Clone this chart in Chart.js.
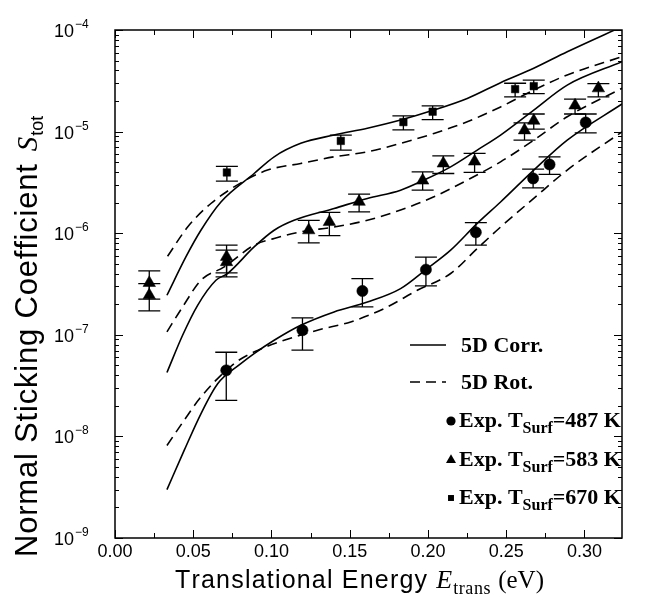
<!DOCTYPE html>
<html>
<head>
<meta charset="utf-8">
<script src="https://cdn.jsdelivr.net/npm/chart.js@4.4.0/dist/chart.umd.min.js"></script>
<style>
  html, body { margin: 0; padding: 0; background: #fff; }
  #wrap { width: 651px; height: 602px; }
</style>
</head>
<body>
<div id="wrap"><canvas id="c" width="651" height="602"></canvas></div>
<script>
// ---- Calculated sticking coefficients (5D corrugated / 5D rotational models) ----
const corr670E = [0.0332, 0.0453, 0.0549, 0.0677, 0.0889, 0.1017, 0.1187, 0.140, 0.1613, 0.1825, 0.2038, 0.2251, 0.2464, 0.2676, 0.289, 0.324];
const corr670S = [2.45e-7, 5.85e-7, 1.07e-6, 2.03e-6, 3.87e-6, 5.65e-6, 7.66e-6, 9.25e-6, 1.08e-5, 1.30e-5, 1.63e-5, 2.12e-5, 3.03e-5, 4.20e-5, 6.11e-5, 1.08e-4];
const rot670E  = [0.0336, 0.0464, 0.0613, 0.0815, 0.0975, 0.1187, 0.140, 0.1613, 0.1825, 0.2038, 0.2251, 0.2464, 0.2676, 0.289, 0.324];
const rot670S  = [5.93e-7, 1.15e-6, 1.96e-6, 3.20e-6, 4.18e-6, 4.86e-6, 5.65e-6, 6.32e-6, 7.66e-6, 9.59e-6, 1.25e-5, 1.75e-5, 2.56e-5, 3.61e-5, 5.46e-5];

const corr583E = [0.0332, 0.0432, 0.0528, 0.0645, 0.0719, 0.0889, 0.1017, 0.1144, 0.140, 0.1613, 0.1825, 0.1974, 0.2145, 0.2315, 0.2464, 0.2676, 0.289, 0.324];
const corr583S = [4.25e-8, 9.89e-8, 1.95e-7, 3.44e-7, 4.01e-7, 7.33e-7, 1.07e-6, 1.34e-6, 1.75e-6, 2.20e-6, 2.65e-6, 3.33e-6, 4.50e-6, 6.58e-6, 9.25e-6, 1.63e-5, 2.87e-5, 4.88e-5];
const rot583E  = [0.0332, 0.0432, 0.0549, 0.0698, 0.0889, 0.1017, 0.1187, 0.140, 0.1613, 0.1825, 0.2038, 0.2251, 0.2464, 0.2676, 0.289, 0.324];
const rot583S  = [1.07e-7, 1.88e-7, 3.44e-7, 4.66e-7, 7.62e-7, 8.87e-7, 1.03e-6, 1.15e-6, 1.34e-6, 1.69e-6, 2.28e-6, 3.33e-6, 5.04e-6, 8.24e-6, 1.40e-5, 2.67e-5];

const corr487E = [0.0332, 0.0442, 0.0549, 0.0656, 0.0804, 0.0889, 0.1017, 0.1187, 0.140, 0.1613, 0.1825, 0.1987, 0.2145, 0.2315, 0.2464, 0.2676, 0.289, 0.324];
const corr487S = [2.99e-9, 7.28e-9, 1.67e-8, 3.30e-8, 5.20e-8, 6.53e-8, 8.83e-8, 1.24e-7, 1.68e-7, 2.10e-7, 2.85e-7, 4.39e-7, 6.81e-7, 1.25e-6, 2.03e-6, 4.18e-6, 8.24e-6, 1.87e-5];
const rot487E  = [0.0332, 0.0442, 0.0549, 0.0761, 0.0911, 0.1081, 0.1294, 0.1506, 0.1719, 0.1932, 0.2145, 0.2315, 0.2464, 0.2676, 0.289, 0.324];
const rot487S  = [8.15e-9, 1.44e-8, 2.44e-8, 5.20e-8, 7.03e-8, 8.83e-8, 1.11e-7, 1.34e-7, 1.81e-7, 2.74e-7, 4.01e-7, 7.06e-7, 1.15e-6, 2.20e-6, 4.18e-6, 9.95e-6];

// ---- Measured sticking coefficients with error limits ----
const exp487E  = [0.0711, 0.1198, 0.1581, 0.1987, 0.2306, 0.2672, 0.2777, 0.3008];
const exp487S  = [4.47e-8, 1.11e-7, 2.70e-7, 4.38e-7, 1.02e-6, 3.46e-6, 4.75e-6, 1.23e-5];
const exp487Hi = [6.73e-8, 1.47e-7, 3.58e-7, 5.81e-7, 1.27e-6, 4.28e-6, 5.65e-6, 1.49e-5];
const exp487Lo = [2.26e-8, 7.08e-8, 1.88e-7, 3.03e-7, 7.62e-7, 2.79e-6, 3.79e-6, 9.73e-6];

const exp583E  = [0.0219, 0.0219, 0.0713, 0.0713, 0.1238, 0.137, 0.156, 0.1966, 0.2098, 0.2298, 0.2617, 0.2676, 0.294, 0.3089];
const exp583S  = [3.24e-7, 2.45e-7, 5.85e-7, 5.20e-7, 1.07e-6, 1.29e-6, 2.04e-6, 3.30e-6, 4.86e-6, 5.08e-6, 1.03e-5, 1.28e-5, 1.81e-5, 2.67e-5];
const exp583Hi = [4.26e-7, 3.19e-7, 7.62e-7, 6.81e-7, 1.34e-6, 1.60e-6, 2.42e-6, 4.02e-6, 5.78e-6, 6.10e-6, 1.22e-5, 1.49e-5, 2.09e-5, 2.96e-5];
const exp583Lo = [2.24e-7, 1.72e-7, 4.06e-7, 3.71e-7, 8.02e-7, 9.48e-7, 1.62e-6, 2.65e-6, 3.87e-6, 3.96e-6, 8.24e-6, 1.06e-5, 1.49e-5, 2.20e-5];

const exp670E  = [0.0715, 0.1443, 0.1843, 0.203, 0.2557, 0.2676];
const exp670S  = [3.96e-6, 8.10e-6, 1.24e-5, 1.57e-5, 2.62e-5, 2.80e-5];
const exp670Hi = [4.54e-6, 9.25e-6, 1.43e-5, 1.79e-5, 2.99e-5, 3.21e-5];
const exp670Lo = [3.25e-6, 6.58e-6, 1.04e-5, 1.31e-5, 2.20e-5, 2.36e-5];

// ---- Axis ticks and labels ----
const xTickValues = [0.00, 0.05, 0.10, 0.15, 0.20, 0.25, 0.30];
const xTickLabels = ['0.00', '0.05', '0.10', '0.15', '0.20', '0.25', '0.30'];
const yDecades    = [-9, -8, -7, -6, -5, -4];

const legendRows = [
  { kind: 'solid',  text: '5D Corr.' },
  { kind: 'dashed', text: '5D Rot.' },
  { kind: 'circle',   temp: '487' },
  { kind: 'triangle', temp: '583' },
  { kind: 'rect',     temp: '670' }
];

const SANS = '"Liberation Sans", Arial, Helvetica, sans-serif';
const SERIF = '"Liberation Serif", "Times New Roman", Times, serif';
const DASH = [10, 6];

function pts(xs, ys) { return xs.map((x, i) => ({ x: x, y: ys[i] })); }

function curve(xs, ys, dashed) {
  return {
    type: 'line',
    data: pts(xs, ys),
    showLine: true,
    borderColor: '#000',
    borderWidth: 1.6,
    borderDash: dashed ? DASH : [],
    pointRadius: 0,
    cubicInterpolationMode: 'monotone',
    fill: false
  };
}

function markers(xs, ys, style, r) {
  return {
    type: 'scatter',
    data: pts(xs, ys),
    pointStyle: style,
    pointRadius: r,
    pointBackgroundColor: '#000',
    pointBorderColor: '#000',
    pointBorderWidth: 0.5,
    showLine: false
  };
}

const errorSets = [
  { e: exp487E, hi: exp487Hi, lo: exp487Lo },
  { e: exp583E, hi: exp583Hi, lo: exp583Lo },
  { e: exp670E, hi: exp670Hi, lo: exp670Lo }
];

// draws text with optional letter spacing, returns advance width
function spaced(ctx, text, x, y, spacing) {
  let cx = x;
  for (const ch of text) {
    ctx.fillText(ch, cx, y);
    cx += ctx.measureText(ch).width + spacing;
  }
  return cx - x;
}

const axesPlugin = {
  id: 'axesPlugin',
  afterDatasetsDraw(chart) {
    const ctx = chart.ctx, xs = chart.scales.x, ys = chart.scales.y;
    ctx.save();
    ctx.strokeStyle = '#000';
    ctx.lineWidth = 1.3;
    const cap = 11;
    errorSets.forEach(set => {
      set.e.forEach((e, i) => {
        const px = xs.getPixelForValue(e);
        const yh = ys.getPixelForValue(set.hi[i]);
        const yl = ys.getPixelForValue(set.lo[i]);
        ctx.beginPath();
        ctx.moveTo(px, yh); ctx.lineTo(px, yl);
        ctx.moveTo(px - cap, yh); ctx.lineTo(px + cap, yh);
        ctx.moveTo(px - cap, yl); ctx.lineTo(px + cap, yl);
        ctx.stroke();
      });
    });
    ctx.restore();
  },
  afterDraw(chart) {
    const ctx = chart.ctx, xs = chart.scales.x, ys = chart.scales.y;
    const a = chart.chartArea;
    ctx.save();
    ctx.strokeStyle = '#000';
    ctx.fillStyle = '#000';
    ctx.lineWidth = 1.5;
    ctx.strokeRect(a.left, a.top, a.right - a.left, a.bottom - a.top);

    // x ticks (inward, bottom and top)
    ctx.lineWidth = 1;
    ctx.beginPath();
    for (let k = 0; k <= 13; k++) {
      const v = k * 0.025;
      if (v > xs.max) break;
      const px = Math.round(xs.getPixelForValue(v)) + 0.5;
      const len = (k % 2 === 0) ? 8 : 5;
      ctx.moveTo(px, a.bottom); ctx.lineTo(px, a.bottom - len);
      ctx.moveTo(px, a.top); ctx.lineTo(px, a.top + len);
    }
    // y ticks (inward, left and right)
    yDecades.forEach(d => {
      for (let m = 1; m <= 9; m++) {
        const v = m * Math.pow(10, d);
        if (v > ys.max * 1.0001) continue;
        const py = Math.round(ys.getPixelForValue(v)) + 0.5;
        const len = (m === 1) ? 8 : 4;
        ctx.moveTo(a.left, py); ctx.lineTo(a.left + len, py);
        ctx.moveTo(a.right, py); ctx.lineTo(a.right - len, py);
      }
    });
    ctx.stroke();

    // x tick labels
    ctx.font = '18px ' + SANS;
    ctx.textAlign = 'center';
    ctx.textBaseline = 'alphabetic';
    xTickValues.forEach((v, i) => {
      ctx.fillText(xTickLabels[i], xs.getPixelForValue(v), 557);
    });

    // y tick labels: 10^n
    yDecades.forEach(d => {
      const py = ys.getPixelForValue(Math.pow(10, d));
      ctx.font = '18px ' + SANS;
      ctx.textAlign = 'right';
      ctx.fillText('10', 74, py + 7);
      ctx.font = '12px ' + SANS;
      ctx.textAlign = 'left';
      ctx.fillText('\u2212' + Math.abs(d), 75, py - 2);
    });

    // x axis title
    ctx.textAlign = 'left';
    let x = 175;
    const by = 588;
    ctx.font = '25px ' + SANS;
    x += spaced(ctx, 'Translational Energy', x, by, 1.2);
    x += 8;
    ctx.font = 'italic 26px ' + SERIF;
    ctx.fillText('E', x, by);
    x += ctx.measureText('E').width + 1;
    ctx.font = '18px ' + SERIF;
    x += spaced(ctx, 'trans', x, by + 6, 0.6);
    x += 7;
    ctx.font = '25px ' + SERIF;
    ctx.fillText('(eV)', x, by);

    // y axis title (rotated)
    ctx.save();
    ctx.translate(37, 557);
    ctx.rotate(-Math.PI / 2);
    ctx.font = '31px ' + SANS;
    let t = spaced(ctx, 'Normal Sticking Coefficient', 0, 0, 0.8);
    t += 12;
    ctx.font = 'italic 29px ' + SERIF;
    ctx.fillText('S', t, 0);
    t += ctx.measureText('S').width + 1;
    ctx.font = '18px ' + SANS;
    ctx.fillText('tot', t, 6);
    ctx.restore();

    // legend
    const rowsY = [345, 382, 420, 459, 497];
    legendRows.forEach((row, i) => {
      const y = rowsY[i];
      ctx.lineWidth = 1.6;
      ctx.textAlign = 'left';
      if (row.kind === 'solid' || row.kind === 'dashed') {
        ctx.setLineDash(row.kind === 'dashed' ? DASH : []);
        ctx.beginPath();
        ctx.moveTo(410, y); ctx.lineTo(446, y);
        ctx.stroke();
        ctx.setLineDash([]);
        ctx.font = 'bold 22px ' + SERIF;
        ctx.fillText(row.text, 461, y + 7);
      } else {
        const r = row.kind === 'circle' ? 4.6 : (row.kind === 'triangle' ? 5.8 : 4.2);
        Chart.helpers.drawPoint(ctx, { pointStyle: row.kind, rotation: 0, radius: r, borderWidth: 0 }, 451, y + 1, r);
        let lx = 459;
        ctx.font = 'bold 22px ' + SERIF;
        ctx.fillText('Exp. T', lx, y + 7);
        lx += ctx.measureText('Exp. T').width;
        ctx.font = 'bold 16px ' + SERIF;
        ctx.fillText('Surf', lx, y + 13);
        lx += ctx.measureText('Surf').width;
        ctx.font = 'bold 22px ' + SERIF;
        ctx.fillText('=' + row.temp + ' K', lx, y + 7);
      }
    });
    ctx.restore();
  }
};

new Chart(document.getElementById('c'), {
  data: {
    datasets: [
      curve(corr670E, corr670S, false),
      curve(rot670E, rot670S, true),
      curve(corr583E, corr583S, false),
      curve(rot583E, rot583S, true),
      curve(corr487E, corr487S, false),
      curve(rot487E, rot487S, true),
      markers(exp487E, exp487S, 'circle', 5.6),
      markers(exp583E, exp583S, 'triangle', 7.2),
      markers(exp670E, exp670S, 'rect', 5.3)
    ]
  },
  options: {
    responsive: false,
    animation: false,
    devicePixelRatio: 1,
    layout: { padding: { left: 115, top: 30, right: 29, bottom: 64 } },
    plugins: { legend: { display: false }, tooltip: { enabled: false } },
    scales: {
      x: { type: 'linear', min: 0, max: 0.324, display: false },
      y: { type: 'logarithmic', min: 1e-9, max: 1e-4, display: false }
    }
  },
  plugins: [axesPlugin]
});
</script>
</body>
</html>
